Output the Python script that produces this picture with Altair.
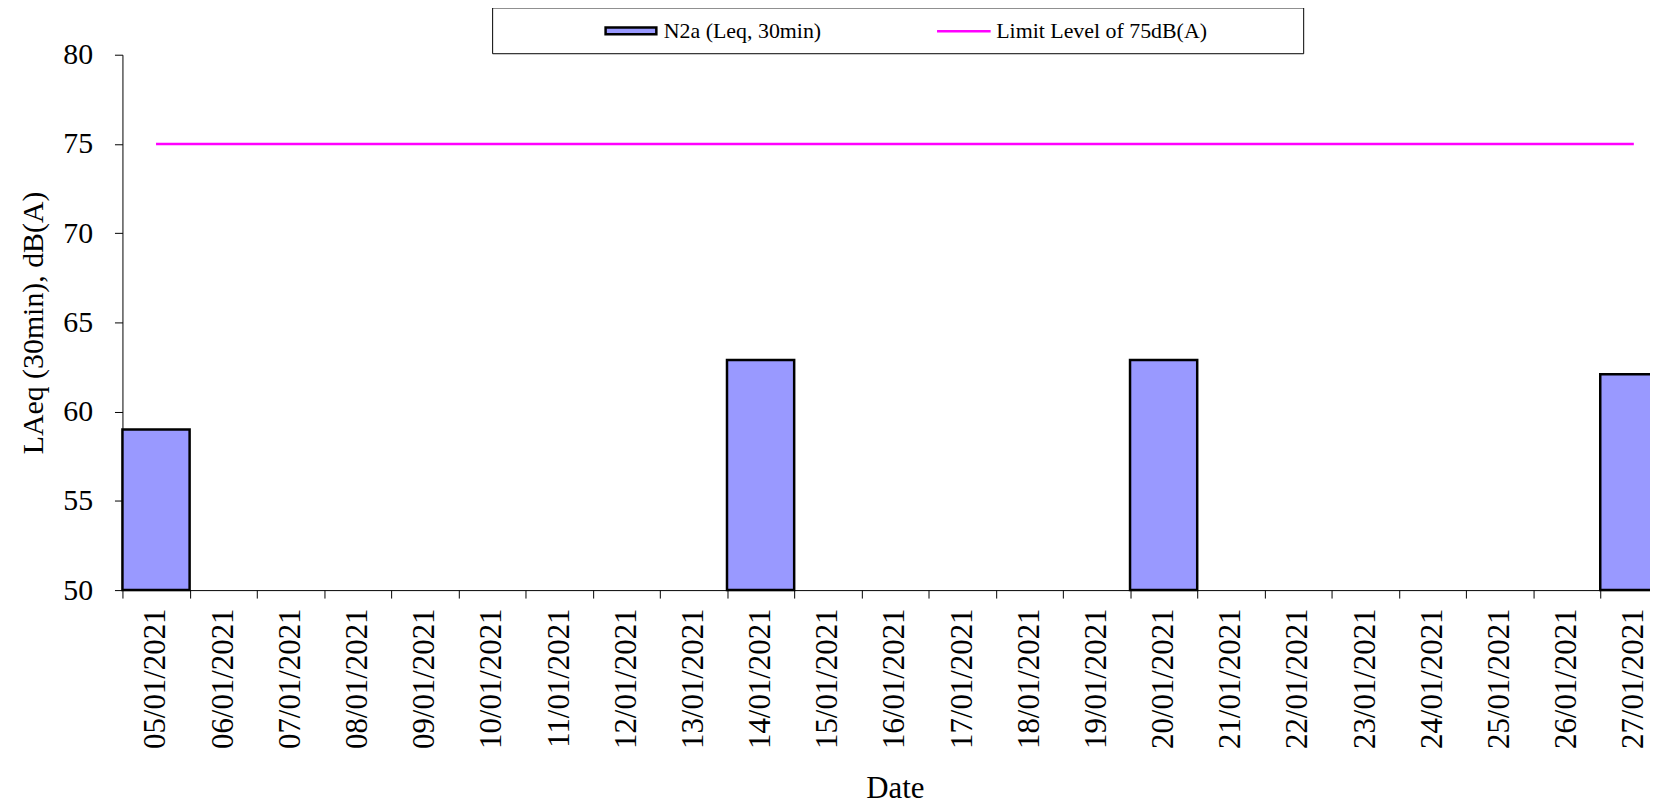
import altair as alt
import pandas as pd

dates = ["05/01/2021", "06/01/2021", "07/01/2021", "08/01/2021", "09/01/2021",
         "10/01/2021", "11/01/2021", "12/01/2021", "13/01/2021", "14/01/2021",
         "15/01/2021", "16/01/2021", "17/01/2021", "18/01/2021", "19/01/2021",
         "20/01/2021", "21/01/2021", "22/01/2021", "23/01/2021", "24/01/2021",
         "25/01/2021", "26/01/2021", "27/01/2021"]
n2a_values = [59.0, None, None, None, None, None, None, None, None, 62.9,
              None, None, None, None, None, 62.9, None, None, None, None,
              None, None, 62.1]
limit_level = [75] * len(dates)
bar_series = "N2a (Leq, 30min)"
line_series = "Limit Level of 75dB(A)"
y_ticks = [50, 55, 60, 65, 70, 75, 80]

df = pd.DataFrame({"date": dates, "value": n2a_values, "limit": limit_level,
                   "s1": bar_series, "s2": line_series})

FONT = "Liberation Serif"
W = 1535
H = 538
STEP = 67.5

x_enc = alt.X("date:N", sort=dates,
              scale=alt.Scale(domain=dates, range=[0, STEP * len(dates)],
                              paddingInner=0, paddingOuter=0),
              axis=alt.Axis(title="Date", labelAngle=270, tickBand="extent",
                            labelFontSize=31, titleFontSize=31, labelPadding=10,
                            titlePadding=25, tickSize=8, domainColor="black",
                            tickColor="black", labelColor="black", titleColor="black",
                            titleFontWeight="normal", grid=False, labelLimit=400))

y_scale = alt.Scale(domain=[50, 80], zero=False, nice=False)
y_axis = alt.Axis(title="LAeq (30min), dB(A)", values=y_ticks, labelFontSize=30,
                  titleFontSize=30, tickSize=8, labelPadding=22, titlePadding=14,
                  domainColor="black", tickColor="black", labelColor="black",
                  titleColor="black", titleFontWeight="normal", grid=False)

box = alt.Chart(pd.DataFrame({"a": [0]})).mark_rect(
    fill="white", stroke="black", strokeWidth=1
).encode(x=alt.value(372), x2=alt.value(1187), y=alt.value(-47), y2=alt.value(-1))

bars = alt.Chart(df).mark_bar(stroke="black", strokeWidth=2.5).encode(
    x=x_enc,
    y=alt.Y("value:Q", scale=y_scale, axis=y_axis),
    y2=alt.datum(50),
    fill=alt.Fill("s1:N", scale=alt.Scale(domain=[bar_series], range=["#9999FF"]),
                  legend=alt.Legend(title=None, orient="none", legendX=484, legendY=-51,
                                    labelFont=FONT, labelFontSize=22, labelColor="black",
                                    symbolType="M-1,-0.13L1,-0.13L1,0.13L-1,0.13Z",
                                    symbolSize=2600, symbolStrokeColor="black",
                                    symbolStrokeWidth=2.5, labelOffset=6, padding=0,
                                    labelLimit=400)),
)

line = alt.Chart(df).mark_line(strokeWidth=2.5).encode(
    x=x_enc,
    y=alt.Y("limit:Q", scale=y_scale, axis=y_axis),
    stroke=alt.Stroke("s2:N", scale=alt.Scale(domain=[line_series], range=["#FF00FF"]),
                      legend=alt.Legend(title=None, orient="none", legendX=817, legendY=-52,
                                        labelFont=FONT, labelFontSize=22, labelColor="black",
                                        symbolType="stroke", symbolSize=2900,
                                        symbolStrokeWidth=2.5, labelOffset=4, padding=0,
                                        labelLimit=400)),
)

chart = alt.layer(box, bars, line).properties(
    width=W, height=H,
    autosize=alt.AutoSizeParams(type="none"),
    padding={"left": 115, "top": 45, "right": 0, "bottom": 216},
).configure(font=FONT).configure_view(stroke=None).configure_axis(
    labelFont=FONT, titleFont=FONT
)

chart.save("out.html", embed_options={"renderer": "svg", "actions": False})
